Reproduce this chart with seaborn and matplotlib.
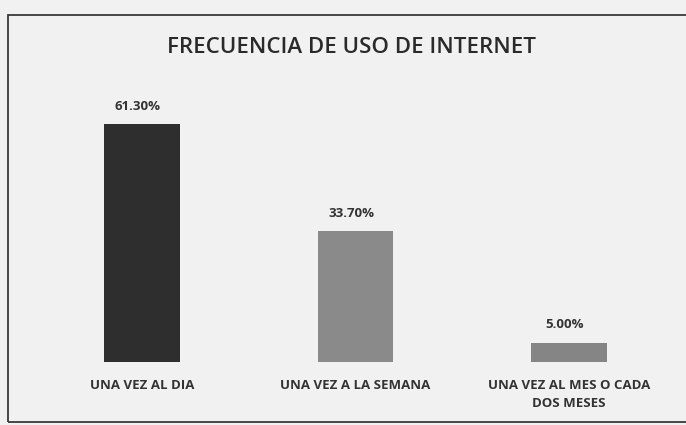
import matplotlib
matplotlib.use("Agg")
import matplotlib.pyplot as plt
from matplotlib.patches import Rectangle
import pandas as pd
import seaborn as sns

# data
categories = ["UNA VEZ AL DIA", "UNA VEZ A LA SEMANA", "UNA VEZ AL MES O CADA\nDOS MESES"]
values = [61.30, 33.70, 5.00]
bar_colors = ["#2e2e2e", "#8a8a8a", "#858585"]

df = pd.DataFrame({"categoria": categories, "porcentaje": values})

sns.set_style("white")
plt.rcParams["font.family"] = ["Open Sans", "DejaVu Sans"]

fig = plt.figure(figsize=(6.86, 4.25), dpi=100)
fig.patch.set_facecolor("#f1f1f1")

# outer frame of the chart
fig.patches.append(Rectangle((8 / 686, 3 / 425), 690 / 686, 407 / 425,
                             transform=fig.transFigure, fill=False,
                             edgecolor="#3a3a3a", linewidth=1.3))

ax = fig.add_axes([0.03, 0.148, 0.967, 0.639])
ax.set_facecolor("#f1f1f1")

sns.barplot(data=df, x="categoria", y="porcentaje", hue="categoria",
            palette=bar_colors, width=0.355, legend=False, linewidth=0, ax=ax)

ax.set_xlim(-0.57, 2.54)
ax.set_ylim(0, 70)

for i, v in enumerate(values):
    ax.text(i - 0.02, v + 3.0, f"{v:.2f}%", ha="center", va="bottom",
            fontsize=9.5, fontweight="bold", color="#333333")

ax.set_xticks(range(len(categories)))
ax.set_xticklabels(categories, fontsize=9.5, fontweight="bold", color="#333333",
                   linespacing=1.5)
ax.tick_params(axis="x", length=0, pad=12)
ax.set_yticks([])
ax.set_xlabel("")
ax.set_ylabel("")
sns.despine(ax=ax, left=True, bottom=True)

fig.text(0.513, 0.888, "FRECUENCIA DE USO DE INTERNET", ha="center", va="center",
         fontsize=16, fontweight="semibold", color="#2a2a2a")

fig.savefig("out.png", dpi=100, facecolor=fig.get_facecolor())
